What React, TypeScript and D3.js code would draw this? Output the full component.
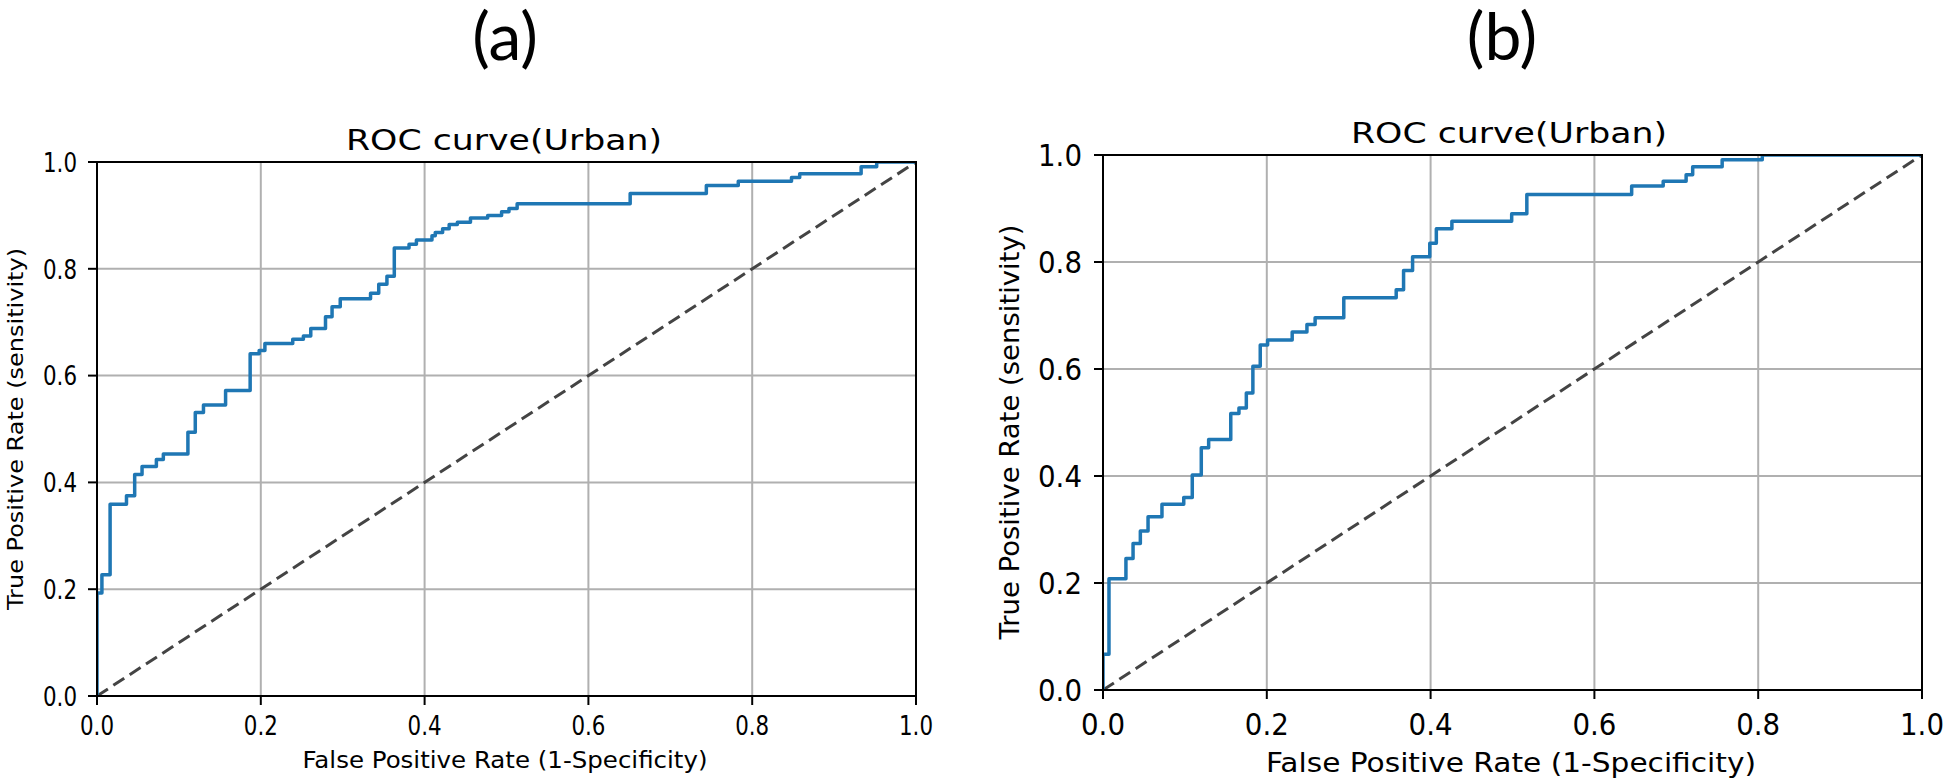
import React from 'react';
import * as d3 from 'd3';

// ROC curve (a): corner points of the staircase (fpr where the step happens, tpr after it)
const fprA = [0, 0, 0.006, 0.016, 0.036, 0.046, 0.055, 0.0725, 0.081, 0.111, 0.12, 0.13, 0.157, 0.187,
  0.198, 0.205, 0.239, 0.252, 0.261, 0.279, 0.287, 0.297, 0.334, 0.344, 0.354, 0.363, 0.381, 0.39,
  0.409, 0.413, 0.422, 0.43, 0.44, 0.456, 0.477, 0.494, 0.503, 0.513, 0.651, 0.744, 0.783, 0.848,
  0.858, 0.933, 0.952, 1.0];
const tprA = [0, 0.193, 0.227, 0.359, 0.375, 0.415, 0.43, 0.443, 0.453, 0.494, 0.531, 0.545, 0.572, 0.641,
  0.647, 0.66, 0.668, 0.674, 0.688, 0.71, 0.729, 0.744, 0.754, 0.771, 0.786, 0.839, 0.846, 0.854,
  0.862, 0.868, 0.875, 0.883, 0.887, 0.895, 0.9, 0.907, 0.913, 0.922, 0.941, 0.956, 0.964, 0.971,
  0.978, 0.991, 1.0, 1.0];

// ROC curve (b)
const fprB = [0, 0, 0.0073, 0.028, 0.0367, 0.0456, 0.055, 0.072, 0.0986, 0.109, 0.12, 0.129, 0.156, 0.166,
  0.175, 0.183, 0.192, 0.201, 0.231, 0.249, 0.259, 0.294, 0.358, 0.367, 0.378, 0.399, 0.407, 0.426,
  0.499, 0.5175, 0.6455, 0.684, 0.712, 0.72, 0.756, 0.805, 1.0];
const tprB = [0, 0.067, 0.208, 0.246, 0.274, 0.297, 0.324, 0.347, 0.36, 0.402, 0.453, 0.468, 0.517, 0.527,
  0.555, 0.605, 0.645, 0.654, 0.669, 0.683, 0.696, 0.733, 0.748, 0.784, 0.81, 0.835, 0.862, 0.876,
  0.89, 0.926, 0.942, 0.951, 0.963, 0.978, 0.991, 1.0, 1.0];

const chance = [0, 1];
const tickValues = [0, 0.2, 0.4, 0.6, 0.8, 1.0];
const panelLetters = ['(a)', '(b)'];
const titleText = 'ROC curve(Urban)';
const xLabelText = 'False Positive Rate (1-Specificity)';
const yLabelText = 'True Positive Rate (sensitivity)';

const FONT = '"DejaVu Sans", sans-serif';
const fmt = d3.format('.1f');

type Box = { left: number; right: number; top: number; bottom: number };
type TextCfg = {
  letterX: number; letterY: number;
  titleX: number; titleY: number; titleSize: number; titleLen: number;
  tickSize: number; tickLen: number; yTickRight: number; xTickY: number;
  xLabelX: number; xLabelY: number; xLabelSize: number; xLabelLen: number;
  yLabelX: number; yLabelY: number; yLabelSize: number; yLabelLen: number;
};

function RocPanel({ id, fpr, tpr, letter, box, t }:
  { id: string; fpr: number[]; tpr: number[]; letter: string; box: Box; t: TextCfg }) {
  const x = d3.scaleLinear().domain([0, 1]).range([box.left, box.right]);
  const y = d3.scaleLinear().domain([0, 1]).range([box.bottom, box.top]);
  const pts: [number, number][] = fpr.map((f, i) => [f, tpr[i]]);
  const roc = d3.line<[number, number]>()
    .x(d => x(d[0]))
    .y(d => y(d[1]))
    .curve(d3.curveStepAfter)(pts) || '';
  const diag = d3.line<number>().x(d => x(d)).y(d => y(d))(chance) || '';
  const tickLen = 9;

  return (
    <g>
      <defs>
        <clipPath id={id}>
          <rect x={box.left} y={box.top} width={box.right - box.left} height={box.bottom - box.top} />
        </clipPath>
      </defs>
      <text x={t.letterX} y={t.letterY} textAnchor="middle" fontFamily="Lato, 'Open Sans', sans-serif"
        fontSize={66} fill="#000">{letter}</text>
      <text x={t.titleX} y={t.titleY} textAnchor="middle" fontFamily={FONT} fontSize={t.titleSize}
        textLength={t.titleLen} lengthAdjust="spacingAndGlyphs" fill="#000">{titleText}</text>

      {/* grid */}
      <g stroke="#b0b0b0" strokeWidth={2}>
        {tickValues.map(v => (
          <line key={'gx' + v} x1={x(v)} x2={x(v)} y1={box.top} y2={box.bottom} />
        ))}
        {tickValues.map(v => (
          <line key={'gy' + v} x1={box.left} x2={box.right} y1={y(v)} y2={y(v)} />
        ))}
      </g>

      <g clipPath={`url(#${id})`}>
        <path d={diag} fill="none" stroke="#444" strokeWidth={3} strokeDasharray="13 6.5" />
        <path d={roc} fill="none" stroke="#1f77b4" strokeWidth={3.5} strokeLinejoin="round" />
      </g>

      {/* spines */}
      <rect x={box.left} y={box.top} width={box.right - box.left} height={box.bottom - box.top}
        fill="none" stroke="#000" strokeWidth={2} />

      {/* ticks */}
      <g stroke="#000" strokeWidth={2}>
        {tickValues.map(v => (
          <line key={'tx' + v} x1={x(v)} x2={x(v)} y1={box.bottom} y2={box.bottom + tickLen} />
        ))}
        {tickValues.map(v => (
          <line key={'ty' + v} x1={box.left - tickLen} x2={box.left} y1={y(v)} y2={y(v)} />
        ))}
      </g>
      <g fontFamily={FONT} fontSize={t.tickSize} fill="#000">
        {tickValues.map(v => (
          <text key={'lx' + v} x={x(v)} y={t.xTickY} textAnchor="middle"
            textLength={t.tickLen} lengthAdjust="spacingAndGlyphs">{fmt(v)}</text>
        ))}
        {tickValues.map(v => (
          <text key={'ly' + v} x={t.yTickRight} y={y(v) + t.tickSize * 0.36} textAnchor="end"
            textLength={t.tickLen} lengthAdjust="spacingAndGlyphs">{fmt(v)}</text>
        ))}
      </g>

      <text x={t.xLabelX} y={t.xLabelY} textAnchor="middle" fontFamily={FONT} fontSize={t.xLabelSize}
        textLength={t.xLabelLen} lengthAdjust="spacingAndGlyphs" fill="#000">{xLabelText}</text>
      <text transform={`translate(${t.yLabelX},${t.yLabelY}) rotate(-90)`} textAnchor="middle"
        fontFamily={FONT} fontSize={t.yLabelSize} textLength={t.yLabelLen}
        lengthAdjust="spacingAndGlyphs" fill="#000">{yLabelText}</text>
    </g>
  );
}

const boxA: Box = { left: 97, right: 916, top: 162, bottom: 696 };
const boxB: Box = { left: 1103, right: 1922, top: 155, bottom: 690 };

const textA: TextCfg = {
  letterX: 505, letterY: 60,
  titleX: 504, titleY: 150, titleSize: 28, titleLen: 316,
  tickSize: 27, tickLen: 34, yTickRight: 77, xTickY: 735,
  xLabelX: 505, xLabelY: 768, xLabelSize: 23, xLabelLen: 405,
  yLabelX: 23, yLabelY: 429, yLabelSize: 21, yLabelLen: 362,
};
const textB: TextCfg = {
  letterX: 1502, letterY: 60,
  titleX: 1509, titleY: 143, titleSize: 28, titleLen: 316,
  tickSize: 30, tickLen: 44, yTickRight: 1082, xTickY: 735,
  xLabelX: 1511, xLabelY: 772, xLabelSize: 26, xLabelLen: 490,
  yLabelX: 1019, yLabelY: 432, yLabelSize: 27, yLabelLen: 415,
};

export default function App() {
  return (
    <svg width={1943} height={784} style={{ position: 'absolute', left: 0, top: 0, background: '#fff' }}>
      <rect width={1943} height={784} fill="#fff" />
      <RocPanel id="clipA" fpr={fprA} tpr={tprA} letter={panelLetters[0]} box={boxA} t={textA} />
      <RocPanel id="clipB" fpr={fprB} tpr={tprB} letter={panelLetters[1]} box={boxB} t={textB} />
    </svg>
  );
}
